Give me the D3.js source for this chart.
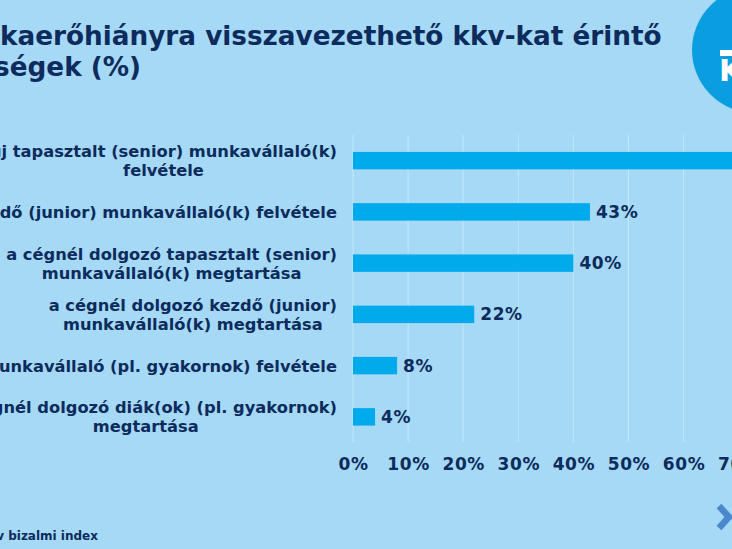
<!DOCTYPE html>
<html>
<head>
<meta charset="utf-8">
<script src="https://cdn.jsdelivr.net/npm/d3@7"></script>
<style>
  html, body { margin: 0; padding: 0; background: #a5d9f6; overflow: hidden; }
  svg { display: block; }
  text { font-family: "DejaVu Sans", Verdana, sans-serif; font-weight: bold; fill: #0d2b5c; }
</style>
</head>
<body>
<div id="chart"></div>
<script>
// chart data
var categories = [
  ["új tapasztalt (senior) munkavállaló(k)", "felvétele"],
  ["új kezdő (junior) munkavállaló(k) felvétele"],
  ["a cégnél dolgozó tapasztalt (senior)", "munkavállaló(k) megtartása"],
  ["a cégnél dolgozó kezdő (junior)", "munkavállaló(k) megtartása"],
  ["diák munkavállaló (pl. gyakornok) felvétele"],
  ["a cégnél dolgozó diák(ok) (pl. gyakornok)", "megtartása"]
];
var values = [73, 43, 40, 22, 8, 4];
var tickValues = [0, 10, 20, 30, 40, 50, 60, 70, 80];
var titleLines = ["A munkaerőhiányra visszavezethető kkv-kat érintő", "nehézségek (%)"];
var titleHidden = "A mun";
var source = "Forrás: K&H kkv bizalmi index";

var W = 732, H = 549;

var svg = d3.select("#chart")
  .append("svg")
    .attr("width", W)
    .attr("height", H);

// logo in the top right corner
svg.append("circle")
  .attr("cx", 755)
  .attr("cy", 50)
  .attr("r", 63)
  .attr("fill", "#0a9ee0");
svg.append("rect")
  .attr("x", 720).attr("y", 50)
  .attr("width", 20).attr("height", 6)
  .attr("fill", "#fff");
svg.append("text")
  .attr("x", 719).attr("y", 81)
  .style("font-size", "30px")
  .style("fill", "#fff")
  .text("K");

// title: the visible part of line 1 runs from x=0 to ~662
var title = svg.append("g");
var probe = title.append("text").style("font-size", "25px").text(titleHidden);
var wp = probe.node().getComputedTextLength();
probe.remove();
var t1 = title.append("text")
  .attr("y", 45)
  .style("font-size", "25px")
  .text(titleLines[0]);
var w1 = t1.node().getComputedTextLength();
var fs = 25 * 662 / (w1 - wp);
var tx = -wp * fs / 25;
t1.style("font-size", fs + "px").attr("x", tx);
title.append("text")
  .attr("x", tx)
  .attr("y", 76)
  .style("font-size", fs + "px")
  .text(titleLines[1]);

// scales
var x = d3.scaleLinear()
  .domain([0, 80])
  .range([353, 353 + 8 * 55.1]);

var y = d3.scaleBand()
  .domain(d3.range(categories.length))
  .range([135, 442.5])
  .paddingInner(0.66)
  .paddingOuter(0.33);

// grid lines
svg.append("g")
  .selectAll("line")
  .data(tickValues)
  .enter()
  .append("line")
    .attr("x1", function(d) { return x(d); })
    .attr("x2", function(d) { return x(d); })
    .attr("y1", 135)
    .attr("y2", 442)
    .attr("stroke", "#c3e7fb")
    .attr("stroke-width", 1);

// x axis labels
var xAxis = svg.append("g")
  .attr("transform", "translate(0,456)")
  .call(d3.axisBottom(x)
    .tickValues(tickValues)
    .tickSize(0)
    .tickPadding(0)
    .tickFormat(function(d) { return d + "%"; }));
xAxis.select(".domain").remove();
xAxis.selectAll("text")
  .attr("dy", 0)
  .attr("y", 14)
  .style("font-size", "17px")
  .style("letter-spacing", "0.6px")
  .style("font-family", "'DejaVu Sans', Verdana, sans-serif")
  .attr("fill", "#0d2b5c");

// bars
svg.selectAll("rect.bar")
  .data(values)
  .enter()
  .append("rect")
    .attr("class", "bar")
    .attr("x", x(0))
    .attr("y", function(d, i) { return y(i); })
    .attr("width", function(d) { return x(d) - x(0); })
    .attr("height", y.bandwidth())
    .attr("fill", "#00aaeb");

// value labels
svg.selectAll("text.val")
  .data(values)
  .enter()
  .append("text")
    .attr("class", "val")
    .attr("x", function(d) { return x(d) + 6; })
    .attr("y", function(d, i) { return y(i) + y.bandwidth() / 2 + 6; })
    .style("font-size", "17px")
    .style("letter-spacing", "0.6px")
    .text(function(d) { return d + "%"; });

// category labels, centred lines with right edge at 337
categories.forEach(function(lines, i) {
  var cy = y(i) + y.bandwidth() / 2;
  var g = svg.append("g");
  var texts = lines.map(function(line, j) {
    return g.append("text")
      .attr("y", cy + 6 + (j - (lines.length - 1) / 2) * 19)
      .attr("text-anchor", "middle")
      .style("font-size", "16.3px")
      .text(line);
  });
  var maxW = d3.max(texts, function(t) { return t.node().getComputedTextLength(); });
  texts.forEach(function(t) { t.attr("x", 337 - maxW / 2); });
});

// source
svg.append("text")
  .attr("x", 98)
  .attr("y", 540)
  .attr("text-anchor", "end")
  .style("font-size", "12px")
  .text(source);

// next arrow
svg.append("path")
  .attr("d", "M719,506 L729,517 L719,528")
  .attr("fill", "none")
  .attr("stroke", "#4a88cc")
  .attr("stroke-width", 6.5);
</script>
</body>
</html>
